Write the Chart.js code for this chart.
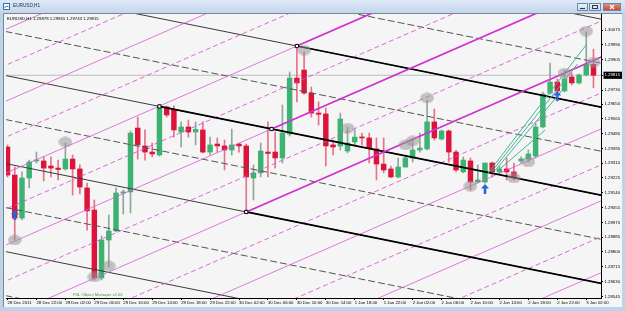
<!DOCTYPE html>
<html><head><meta charset="utf-8">
<script src="https://cdn.jsdelivr.net/npm/chart.js@4.4.1/dist/chart.umd.min.js"></script>
<style>
html,body{margin:0;padding:0;background:#bcd3ec;overflow:hidden}
#wrap{position:relative;width:625px;height:311px}
canvas{position:absolute;left:0;top:0}
.t{position:absolute;font-family:"Liberation Sans",Arial,sans-serif;white-space:nowrap;line-height:1;transform:scale(0.5);transform-origin:0 0}
</style></head><body>
<div id="wrap">
<canvas id="c" width="625" height="311"></canvas>
<div id="wtitle" class="t" style="left:13px;top:3px;font-size:9.4px;color:#1b2b42"></div>
<div id="hdr" class="t" style="left:7px;top:16px;font-size:8.6px;color:#000"></div>
<div id="p4l" class="t" style="left:73px;top:292px;font-size:8.4px;color:#3a9a3a">P4L Object Manager v2.02</div>
</div>
<script>
const symbol = 'EURUSD,H1';
const opens = [1.29403,1.29242,1.28995,1.29225,1.29323,1.29323,1.29294,1.29282,1.29277,1.29334,1.29277,1.29168,1.29041,1.28651,1.28869,1.28921,1.29139,1.29145,1.29512,1.29409,1.29374,1.29357,1.29633,1.29616,1.29489,1.29518,1.29489,1.29501,1.29374,1.29420,1.29409,1.29386,1.29420,1.29409,1.29225,1.29254,1.29374,1.29374,1.29340,1.29478,1.29799,1.29845,1.29713,1.29598,1.29593,1.29415,1.29409,1.29380,1.29432,1.29460,1.29455,1.29392,1.29305,1.29277,1.29231,1.29288,1.29340,1.29386,1.29392,1.29547,1.29449,1.29495,1.29374,1.29260,1.29323,1.29202,1.29202,1.29311,1.29260,1.29277,1.29260,1.29323,1.29334,1.29351,1.29518,1.29713,1.29776,1.29725,1.29805,1.29771,1.29817,1.29878];
const highs = [1.29415,1.29288,1.29260,1.29328,1.29374,1.29346,1.29346,1.29328,1.29426,1.29357,1.29300,1.29196,1.29099,1.28892,1.29013,1.29168,1.29156,1.29495,1.29575,1.29501,1.29426,1.29644,1.29639,1.29639,1.29547,1.29558,1.29547,1.29547,1.29460,1.29455,1.29443,1.29506,1.29426,1.29420,1.29300,1.29426,1.29547,1.29489,1.29644,1.29834,1.29983,1.29949,1.29748,1.29662,1.29627,1.29443,1.29598,1.29518,1.29501,1.29483,1.29483,1.29455,1.29455,1.29294,1.29340,1.29357,1.29443,1.29483,1.29673,1.29621,1.29501,1.29501,1.29386,1.29346,1.29340,1.29300,1.29311,1.29317,1.29294,1.29340,1.29311,1.29346,1.29386,1.29541,1.29719,1.29885,1.29794,1.29845,1.29828,1.29822,1.30064,1.29965];
const lows = [1.29231,1.28869,1.28984,1.29168,1.29311,1.29208,1.29231,1.29214,1.29271,1.29127,1.29133,1.28926,1.28639,1.28639,1.28714,1.28915,1.29018,1.29024,1.29334,1.29328,1.29346,1.29351,1.29575,1.29460,1.29403,1.29460,1.29415,1.29369,1.29357,1.29374,1.29271,1.29357,1.29374,1.29030,1.29099,1.29231,1.29231,1.29282,1.29311,1.29466,1.29662,1.29707,1.29575,1.29529,1.29294,1.29357,1.29386,1.29369,1.29415,1.29415,1.29311,1.29214,1.29254,1.29225,1.29225,1.29288,1.29317,1.29374,1.29386,1.29443,1.29443,1.29317,1.29260,1.29254,1.29156,1.29196,1.29196,1.29231,1.29248,1.29214,1.29214,1.29311,1.29317,1.29340,1.29512,1.29707,1.29667,1.29719,1.29759,1.29765,1.29811,1.29743];
const closes = [1.29242,1.28995,1.29225,1.29317,1.29328,1.29282,1.29282,1.29274,1.29334,1.29277,1.29173,1.29036,1.28651,1.28869,1.28921,1.29139,1.29145,1.29483,1.29415,1.29374,1.29363,1.29627,1.29587,1.29501,1.29518,1.29489,1.29504,1.29374,1.29415,1.29409,1.29386,1.29415,1.29409,1.29231,1.29254,1.29380,1.29366,1.29340,1.29483,1.29799,1.29771,1.29713,1.29598,1.29591,1.29409,1.29403,1.29564,1.29426,1.29460,1.29455,1.29397,1.29305,1.29271,1.29231,1.29288,1.29340,1.29386,1.29397,1.29547,1.29455,1.29495,1.29374,1.29271,1.29328,1.29202,1.29214,1.29311,1.29260,1.29277,1.29260,1.29225,1.29334,1.29363,1.29518,1.29707,1.29776,1.29725,1.29794,1.29771,1.29817,1.29878,1.29815];
const timeLabels = ['28 Dec 2011','28 Dec 22:00','29 Dec 02:00','29 Dec 06:00','29 Dec 10:00','29 Dec 14:00','29 Dec 18:00','29 Dec 22:00','30 Dec 02:00','30 Dec 06:00','30 Dec 10:00','30 Dec 14:00','1 Jan 18:00','1 Jan 22:00','2 Jan 02:00','2 Jan 06:00','2 Jan 10:00','2 Jan 14:00','2 Jan 18:00','2 Jan 22:00','3 Jan 02:00'];
const labelStep = 4;
const priceTicks = [1.28545,1.28630,1.28715,1.28800,1.28885,1.28970,1.29055,1.29140,1.29225,1.29310,1.29395,1.29480,1.29565,1.29650,1.29730,1.29815,1.29905,1.29990,1.30075];
const currentPrice = 1.29815;
// pitchfork anchors: A (handle), B (low), C (high)
const pfIdx = [21, 33, 40];
const pfPrice = [1.29636, 1.29030, 1.29983];
const reactSlope = 0.0001814; // price per bar of the magenta lines
// marks
const circleIdx = [1, 8, 12, 14, 41, 47, 55, 56, 58, 64, 70, 72, 77, 80, 81];
const circlePrice = [1.28869, 1.29432, 1.28657, 1.28720, 1.29960, 1.29512, 1.29415, 1.29438, 1.29685, 1.29179, 1.29225, 1.29317, 1.29828, 1.30069, 1.29891];
const arrowIdx = [1, 66, 76];
const arrowPrice = [1.29013, 1.29162, 1.29696];
const tealFromIdx = [66.3, 66.9, 67.4, 68.0];
const tealFromPrice = [1.29245, 1.29260, 1.29268, 1.29275];
const tealToIdx = [80.0, 78.8, 76.7, 74.3];
const tealToPrice = [1.29990, 1.29880, 1.29730, 1.29500];

const N = opens.length;
const idx = opens.map((_, i) => i);
const up = i => closes[i] >= opens[i];
const X0 = -3, X1 = 86;

function seg(x1, y1, x2, y2, color, width, dash, order) {
  return {type:'line', data:[{x:x1,y:y1},{x:x2,y:y2}], borderColor:color, borderWidth:width,
    borderDash:dash||[], pointRadius:0, fill:false, tension:0, order:order, borderCapStyle:'butt'};
}
const ds = [];
// candles
ds.push({type:'bar', data: idx.map(i=>({x:i,y:[lows[i],highs[i]]})), grouped:false, barThickness:1,
  backgroundColor: idx.map(i=> up(i)?'rgba(110,140,125,0.75)':'rgba(225,70,100,0.75)'), order:30});
ds.push({type:'bar', data: idx.map(i=>({x:i,y:[opens[i],closes[i]]})), grouped:false, barThickness:4.8, minBarLength:1,
  backgroundColor: idx.map(i=> up(i)?'#3cb371':'#dc143c'), order:29});
// current price line
ds.push(seg(X0, currentPrice, X1, currentPrice, '#bdbdbd', 1, [], 40));
// black pitchfork
const A = {i:pfIdx[0], p:pfPrice[0]}, B = {i:pfIdx[1], p:pfPrice[1]}, C = {i:pfIdx[2], p:pfPrice[2]};
const M = {i:(B.i+C.i)/2, p:(B.p+C.p)/2};
const sb = (M.p - A.p)/(M.i - A.i);
const hb = (C.p - (A.p + sb*(C.i - A.i)))/2;
const fb = (i,k) => A.p + sb*(i - A.i) + k*hb;
for (let k=-5;k<=4;k++) {
  const solid = k%2===0;
  ds.push(seg(X0, fb(X0,k), X1, fb(X1,k), solid?'#3a3a3a':'#555', 1, solid?[]:[7,3], 12));
}
[[0,A.i],[2,C.i],[-2,B.i]].forEach(([k,s])=> ds.push(seg(s, fb(s,k), X1, fb(X1,k), '#000', 1.7, [], 8)));
// magenta reaction lines
const sm = reactSlope;
const hm = (C.p - (M.p + sm*(C.i - M.i)))/2;
const fm = (i,k) => M.p + sm*(i - M.i) + k*hm;
for (let k=-8;k<=6;k++) {
  const solid = k%2===0;
  ds.push(seg(X0, fm(X0,k), X1, fm(X1,k), solid?'rgba(215,90,215,0.8)':'rgba(215,80,215,0.85)', 1, solid?[]:[5,3], 11));
}
[[0,M.i],[2,C.i],[-2,B.i]].forEach(([k,s])=> ds.push(seg(s, fm(s,k), X1, fm(X1,k), '#d232d2', 1.7, [], 7)));
// teal lines
for (let t=0;t<tealFromIdx.length;t++) ds.push(seg(tealFromIdx[t], tealFromPrice[t], tealToIdx[t], tealToPrice[t], '#45b596', 1, [], 6));
// anchor squares
ds.push({type:'scatter', data:[A,M,B,C].map(q=>({x:q.i,y:q.p})), pointStyle:'rect', pointRadius:2.3,
  backgroundColor:'#fff', borderColor:'#000', borderWidth:1, order:3});
// grey ellipses
function ellipse(){const c=document.createElement('canvas');c.width=14;c.height=11;const g=c.getContext('2d');
  g.fillStyle='rgba(150,150,150,0.55)';g.beginPath();g.ellipse(7,5.5,6.8,5.2,0,0,Math.PI*2);g.fill();return c;}
function arrow(){const c=document.createElement('canvas');c.width=8;c.height=10;const g=c.getContext('2d');
  g.fillStyle='#2e63d8';g.beginPath();g.moveTo(4,0);g.lineTo(8,4.5);g.lineTo(5.3,4.5);g.lineTo(5.3,10);g.lineTo(2.7,10);g.lineTo(2.7,4.5);g.lineTo(0,4.5);g.closePath();g.fill();return c;}
ds.push({type:'scatter', data: circleIdx.map((v,k)=>({x:v,y:circlePrice[k]})), pointStyle: ellipse(), pointRadius:5, order:2});
ds.push({type:'scatter', data: arrowIdx.map((v,k)=>({x:v,y:arrowPrice[k]})), pointStyle: arrow(), pointRadius:5, order:1});

document.getElementById('wtitle').textContent = symbol;
document.getElementById('hdr').textContent = [symbol, opens[N-1].toFixed(5), highs[N-1].toFixed(5), lows[N-1].toFixed(5), closes[N-1].toFixed(5)].join(' ');

const chrome = {
  id:'chrome',
  beforeDraw(chart){
    const g = chart.ctx; const W = chart.width, H = chart.height;
    g.save();
    g.fillStyle = '#bcd3ec'; g.fillRect(0,0,W,H);
    const gr = g.createLinearGradient(0,0,0,13); gr.addColorStop(0,'#dfe9f6'); gr.addColorStop(1,'#c3d6ee');
    g.fillStyle = gr; g.fillRect(0,0,W,13);
    g.fillStyle='#fff'; g.fillRect(3,3,7,7); g.strokeStyle='#3d6fb0'; g.lineWidth=1; g.strokeRect(3.5,3.5,6,6);
    g.strokeStyle='#2a8a3a'; g.beginPath(); g.moveTo(4.5,8); g.lineTo(6.5,6); g.lineTo(8.5,7); g.stroke();
    const btn=(x,w,fill)=>{const bg=g.createLinearGradient(0,3,0,11); bg.addColorStop(0,fill[0]); bg.addColorStop(1,fill[1]);
      g.fillStyle=bg; g.fillRect(x,3,w,8); g.strokeStyle='#6f87a6'; g.strokeRect(x+0.5,3.5,w-1,7);};
    btn(577,11,['#eef3fa','#c9d8ea']); btn(589,12,['#eef3fa','#c9d8ea']); btn(603,18,['#e59a8c','#c2402e']);
    g.strokeStyle='#2b3a50'; g.beginPath(); g.moveTo(580,8.5); g.lineTo(585,8.5); g.stroke();
    g.strokeRect(592.5,5.5,5,3);
    g.strokeStyle='#fff'; g.lineWidth=1.2; g.beginPath(); g.moveTo(610,5); g.lineTo(614,9); g.moveTo(614,5); g.lineTo(610,9); g.stroke();
    g.fillStyle='#f5f5f5'; g.fillRect(4,14,618,293);
    g.strokeStyle='#7d8590'; g.lineWidth=1; g.beginPath(); g.moveTo(3.5,307); g.lineTo(3.5,13.5); g.lineTo(622,13.5); g.stroke();
    g.restore();
  }
};

const tickFont = {family:'"Liberation Sans", Arial, sans-serif', size:4.3};
new Chart(document.getElementById('c'), {
  type:'bar',
  data:{datasets: ds},
  plugins:[chrome],
  options:{
    responsive:false, maintainAspectRatio:false, animation:false, devicePixelRatio:1, events:[],
    layout:{padding:{left:4, top:14, right:3, bottom:4}},
    plugins:{legend:{display:false}, tooltip:{enabled:false}},
    scales:{
      x:{type:'linear', min:-0.21, max:82.04, offset:false,
        afterBuildTicks:s=>{ s.ticks = timeLabels.map((_,k)=>({value:k*labelStep})); },
        afterFit:s=>{ s.height = 9; },
        ticks:{callback:(v,k)=>timeLabels[k], align:'start', autoSkip:false, maxRotation:0, minRotation:0, padding:0.5, color:'#000', font:tickFont},
        grid:{display:true, drawOnChartArea:false, drawTicks:true, tickLength:2, color:'#000', offset:false},
        border:{display:true, color:'#000', width:1}},
      y:{type:'linear', position:'right', min:1.285358, max:1.301669,
        afterBuildTicks:s=>{ s.ticks = priceTicks.map(v=>({value:v})); },
        afterFit:s=>{ s.width = 21; },
        ticks:{callback:v=>v.toFixed(5), autoSkip:false, padding:1.5, font:tickFont,
          color:c=> (c.tick && c.tick.value===currentPrice)?'#fff':'#000',
          showLabelBackdrop:c=> !!(c.tick && c.tick.value===currentPrice),
          backdropColor:'#000', backdropPadding:{top:1,bottom:1,left:1,right:3}},
        grid:{display:true, drawOnChartArea:false, drawTicks:true, tickLength:2, color:'#000'},
        border:{display:true, color:'#000', width:1}}
    }
  }
});
</script>
</body></html>
